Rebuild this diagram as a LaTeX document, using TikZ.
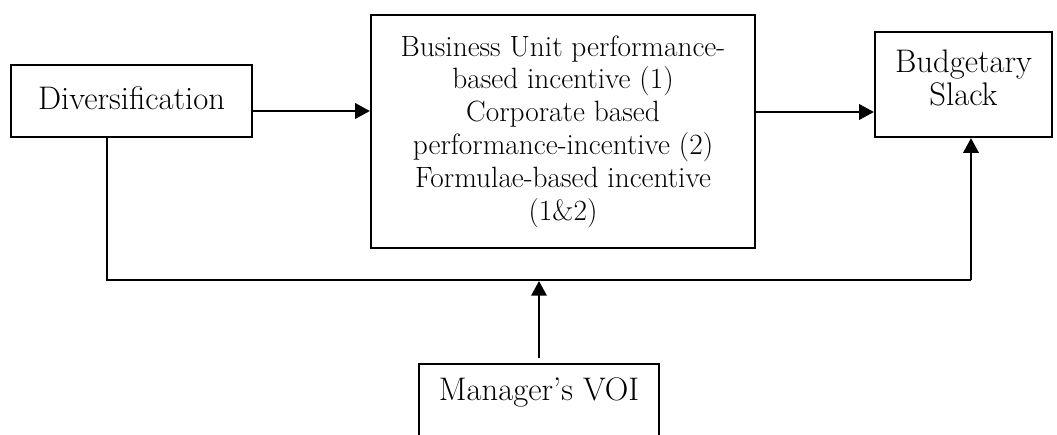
\documentclass[tikz,border=0pt]{standalone}
\usetikzlibrary{arrows.meta}
\begin{document}
\begin{tikzpicture}[x=0.75pt,y=-0.75pt,
  box/.style={draw=black,line width=1.7pt,inner sep=0pt,align=center,
    font=\fontsize{22}{24.6}\selectfont},
  big/.style={font=\fontsize{24.5}{24.75}\selectfont},
  conn/.style={line width=1.6pt},
  arr/.style={conn,-{Triangle[length=11pt,width=11.5pt]}}]
\useasboundingbox (0,0) rectangle (1057,435);
\clip (0,0) rectangle (1057,435);
\node[box,big,minimum width=241*0.75pt,minimum height=72*0.75pt] (div) at (131.5,101) {\raisebox{4pt}{Diversification}};
\node[box,minimum width=384*0.75pt,minimum height=233*0.75pt] (cbox) at (563,131.5) {Business Unit performance-\\based incentive (1)\\Corporate based\\performance-incentive (2)\\Formulae-based incentive\\(1\&2)};
\node[box,minimum width=177*0.75pt,minimum height=105*0.75pt] (bud) at (963.5,84.5) {};
\node[big,align=center,inner sep=0pt] (budt) at (963.5,78) {Budgetary\\Slack};
\node[box,minimum width=240*0.75pt,minimum height=120*0.75pt,anchor=north] (mgr) at (539,363) {};
\node[big,inner sep=0pt] (mgrt) at (539,392) {Manager’s VOI};
\coordinate (m1) at (0,111);
\coordinate (m2) at (0,112);
\coordinate (fl) at (107,280);
\coordinate (fr) at (971,280);
\coordinate (j) at (539,281);
\draw[arr] (div.east |- m1) -- (cbox.west |- m1);
\draw[arr] (cbox.east |- m2) -- (bud.west |- m2);
\draw[conn] (div.south -| fl) -- (fl) -- (fr);
\draw[arr] (fr) -- (bud.south -| fr);
\draw[arr] ([yshift=5*0.75pt]mgr.north) -- (j);
\end{tikzpicture}
\end{document}
